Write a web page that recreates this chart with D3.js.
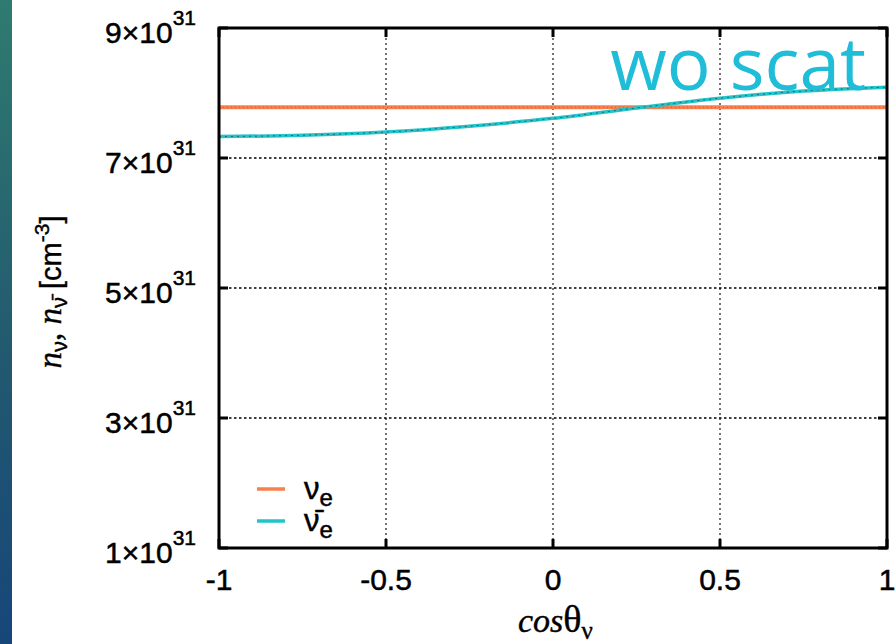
<!DOCTYPE html>
<html>
<head>
<meta charset="utf-8">
<script src="https://cdn.jsdelivr.net/npm/d3@7"></script>
<style>
  body { margin: 0; background: #fff; }
  svg { display: block; }
</style>
</head>
<body>
<svg id="chart" width="895" height="644"></svg>
<script>
// values, density in units of 1e31 cm^-3
var cosTheta = [-1, -0.75, -0.5, -0.25, 0, 0.25, 0.5, 0.75, 1];
var nuE = [7.78, 7.78, 7.78, 7.78, 7.78, 7.78, 7.78, 7.78, 7.78];
var nuEBar = [7.33, 7.35, 7.40, 7.49, 7.61, 7.77, 7.92, 8.03, 8.09];
var xTicks = [-1, -0.5, 0, 0.5, 1];
var xTickLabels = ['-1', '-0.5', '0', '0.5', '1'];
var yTicks = [1, 3, 5, 7, 9];
var yTickLabels = ['1', '3', '5', '7', '9'];

var svg = d3.select('#chart');
var W = 895, H = 644;
var plotL = 219, plotR = 887, plotT = 28, plotB = 548;

// gradient strip on the left edge
var defs = svg.append('defs');
var grad = defs.append('linearGradient')
  .attr('id', 'strip')
  .attr('x1', 0).attr('y1', 0).attr('x2', 0).attr('y2', 1);
grad.append('stop').attr('offset', '0%').attr('stop-color', '#2f7b70');
grad.append('stop').attr('offset', '55%').attr('stop-color', '#22596f');
grad.append('stop').attr('offset', '100%').attr('stop-color', '#17467a');
svg.append('rect').attr('x', 0).attr('y', 0).attr('width', 12).attr('height', H)
  .attr('fill', 'url(#strip)');

var x = d3.scaleLinear().domain([-1, 1]).range([plotL, plotR]);
var y = d3.scaleLinear().domain([1, 9]).range([plotB, plotT]);

// dotted grid
var grid = svg.append('g');
grid.selectAll('line.gx')
  .data(xTicks.slice(1, -1))
  .enter().append('line')
  .attr('x1', d => x(d)).attr('x2', d => x(d))
  .attr('y1', plotT).attr('y2', plotB)
  .attr('stroke', '#000').attr('stroke-width', 1.1)
  .attr('stroke-dasharray', '2,3');
grid.selectAll('line.gy')
  .data(yTicks.slice(1, -1))
  .enter().append('line')
  .attr('y1', d => y(d)).attr('y2', d => y(d))
  .attr('x1', plotL).attr('x2', plotR)
  .attr('stroke', '#000').attr('stroke-width', 1.4)
  .attr('stroke-dasharray', '2.5,2.5');

// curves
var rows = cosTheta.map((c, i) => ({ c: c, a: nuE[i], b: nuEBar[i] }));
var lineA = d3.line().x(d => x(d.c)).y(d => y(d.a));
var lineB = d3.line().x(d => x(d.c)).y(d => y(d.b)).curve(d3.curveMonotoneX);

svg.append('path').datum(rows).attr('d', lineA)
  .attr('fill', 'none').attr('stroke', '#fa7f4f').attr('stroke-width', 4);
svg.append('path').datum(rows).attr('d', lineA)
  .attr('fill', 'none').attr('stroke', '#333').attr('stroke-width', 1)
  .attr('stroke-dasharray', '1,3').attr('opacity', 0.35);
svg.append('path').datum(rows).attr('d', lineB)
  .attr('fill', 'none').attr('stroke', '#22c3c9').attr('stroke-width', 3.5);
svg.append('path').datum(rows).attr('d', lineB)
  .attr('fill', 'none').attr('stroke', '#111').attr('stroke-width', 1)
  .attr('stroke-dasharray', '2,4').attr('opacity', 0.5);

// frame and inward ticks on all four sides
svg.append('rect')
  .attr('x', plotL).attr('y', plotT)
  .attr('width', plotR - plotL).attr('height', plotB - plotT)
  .attr('fill', 'none').attr('stroke', '#000').attr('stroke-width', 3);

var tickLen = 9;
var ticks = svg.append('g').attr('stroke', '#000').attr('stroke-width', 3);
xTicks.forEach(function(t) {
  ticks.append('line').attr('x1', x(t)).attr('x2', x(t)).attr('y1', plotB).attr('y2', plotB - tickLen);
  ticks.append('line').attr('x1', x(t)).attr('x2', x(t)).attr('y1', plotT).attr('y2', plotT + tickLen);
});
yTicks.forEach(function(t) {
  ticks.append('line').attr('y1', y(t)).attr('y2', y(t)).attr('x1', plotL).attr('x2', plotL + tickLen);
  ticks.append('line').attr('y1', y(t)).attr('y2', y(t)).attr('x1', plotR).attr('x2', plotR - tickLen);
});

var sans = 'Liberation Sans, Arial, sans-serif';
var serif = 'Liberation Serif, Times New Roman, serif';

// x tick labels
svg.append('g').selectAll('text')
  .data(xTicks)
  .enter().append('text')
  .attr('x', d => x(d)).attr('y', 590)
  .attr('text-anchor', 'middle')
  .attr('font-family', sans).attr('font-size', 30)
  .attr('stroke', '#000').attr('stroke-width', 0.5)
  .text((d, i) => xTickLabels[i]);

// y tick labels, 9x10^31 style
var yl = svg.append('g').selectAll('text')
  .data(yTicks)
  .enter().append('text')
  .attr('x', 196).attr('y', d => y(d) + 15)
  .attr('text-anchor', 'end')
  .attr('font-family', sans).attr('font-size', 30)
  .attr('stroke', '#000').attr('stroke-width', 0.5);
yl.append('tspan').text((d, i) => yTickLabels[i] + '\u00d710');
yl.append('tspan').attr('dy', -18).attr('font-size', 21).text('31');

// x axis title
var xt = svg.append('text')
  .attr('x', 518).attr('y', 632)
  .attr('font-family', serif)
  .attr('font-size', 34)
  .attr('stroke', '#000').attr('stroke-width', 0.4);
xt.append('tspan').attr('font-style', 'italic').text('cos');
xt.append('tspan').attr('font-size', 38).text('\u03b8');
xt.append('tspan').attr('dy', 7).attr('font-size', 25).text('\u03bd');

// y axis title
var yt = svg.append('text')
  .attr('transform', 'translate(61,292) rotate(-90)')
  .attr('text-anchor', 'middle')
  .attr('font-family', sans).attr('font-size', 29)
  .attr('stroke', '#000').attr('stroke-width', 0.4);
yt.append('tspan').attr('font-family', serif).attr('font-style', 'italic').attr('font-size', 33).text('n');
yt.append('tspan').attr('dy', 6).attr('font-size', 22).text('\u03bd');
yt.append('tspan').attr('dy', -6).attr('font-family', serif).attr('font-size', 33).text(', ');
yt.append('tspan').attr('font-family', serif).attr('font-style', 'italic').attr('font-size', 33).text('n');
yt.append('tspan').attr('dy', 6).attr('font-size', 22).text('\u03bd\u0304');
yt.append('tspan').attr('dy', -6).text(' [cm');
yt.append('tspan').attr('dy', -12).attr('font-size', 21).text('-3');
yt.append('tspan').attr('dy', 12).text(']');

// legend
var legend = [
  { color: '#fa7f4f', label: '\u03bd', y: 489 },
  { color: '#22c3c9', label: '\u03bd\u0304', y: 521 }
];
var lg = svg.append('g');
lg.selectAll('line')
  .data(legend)
  .enter().append('line')
  .attr('x1', 257).attr('x2', 285)
  .attr('y1', d => d.y).attr('y2', d => d.y)
  .attr('stroke', d => d.color).attr('stroke-width', 3.5);
var lt = lg.selectAll('text')
  .data(legend)
  .enter().append('text')
  .attr('x', 304).attr('y', d => d.y + 10)
  .attr('font-family', sans).attr('font-size', 31)
  .attr('stroke', '#000').attr('stroke-width', 0.5);
lt.append('tspan').text(d => d.label);
lt.append('tspan').attr('dy', 7).attr('font-size', 24).text('e');

// annotation
svg.append('text')
  .attr('x', 866).attr('y', 90)
  .attr('text-anchor', 'end')
  .attr('font-family', 'Open Sans, Noto Sans, sans-serif')
  .attr('font-size', 73)
  .attr('fill', '#1fbdd8')
  .text('wo scat');
</script>
</body>
</html>
